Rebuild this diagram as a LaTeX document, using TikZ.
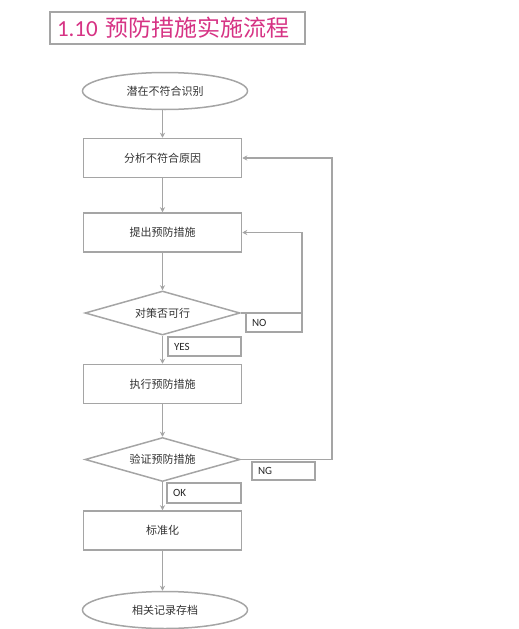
\documentclass[tikz,border=0pt]{standalone}
\usepackage{fontspec}
\setmainfont{Carlito}
\newfontfamily\cjk{Noto Sans CJK SC}
\usetikzlibrary{shapes.geometric,arrows.meta}
\definecolor{lg}{RGB}{165,165,165}
\definecolor{tpink}{RGB}{214,51,132}
\begin{document}
\begin{tikzpicture}[x=1pt,y=-1pt,
  every node/.style={font=\fontsize{11}{13}\selectfont\cjk, text=black!80},
  proc/.style={draw=lg, line width=1.5pt, minimum width=158pt, minimum height=39pt, inner sep=0pt},
  term/.style={ellipse, draw=lg, line width=1.5pt, minimum width=165pt, minimum height=37pt, inner sep=0pt},
  dec/.style={diamond, draw=lg, line width=1.5pt, aspect=3.6, minimum width=155pt, minimum height=44pt, inner sep=0pt},
  lbl/.style={draw=lg, line width=1.2pt, inner sep=0pt, inner xsep=6pt, align=left, font=\fontsize{11}{13}\selectfont, text=black!85},
  conn/.style={draw=lg, line width=1.6pt},
  arr/.style={conn, -{Stealth[length=5pt,width=5pt]}}]
\useasboundingbox (0,0) rectangle (519,629);
% title
\node[draw=lg, line width=1.6pt, minimum width=255pt, minimum height=32pt, inner sep=0pt, inner xsep=7pt,
      text width=241pt, align=left, text=tpink, font=\fontsize{23}{26}\selectfont] (title) at (177.5,28)
      {1.10 {\cjk 预防措施实施流程}};
% nodes
\node[term] (e1) at (165,91) {潜在不符合识别};
\node[proc] (b1) at (162.5,158) {分析不符合原因};
\node[proc] (b2) at (162.5,232.5) {提出预防措施};
\node[dec]  (d1) at (162.5,313) {对策否可行};
\node[proc] (b3) at (162.5,384) {执行预防措施};
\node[dec]  (d2) at (162.5,459.5) {验证预防措施};
\node[proc] (b4) at (162.5,530.5) {标准化};
\node[term] (e2) at (165,610) {相关记录存档};
% labels
\node[lbl, text width=44pt, minimum height=19pt] (no) at (274,322.5) {NO};
\node[lbl, text width=61pt, minimum height=19pt] (yes) at (204.5,346.5) {YES};
\node[lbl, text width=62pt, minimum height=20pt] (ok) at (204,493) {OK};
\node[lbl, text width=51pt, minimum height=18pt] (ng) at (283.5,471) {NG};
% connectors
\coordinate (noc) at (302,313);
\coordinate (ngc) at (332,459.5);
\draw[arr] (b1.north |- e1.south) -- (b1.north);
\draw[arr] (b1.south) -- (b2.north);
\draw[arr] (b2.south) -- (d1.north);
\draw[arr] (d1.south) -- (b3.north);
\draw[arr] (b3.south) -- (d2.north);
\draw[arr] (d2.south) -- (b4.north);
\draw[arr] (b4.south) -- (b4.south |- e2.north);
\draw[arr] (d1.east) -- (noc) |- (b2.east);
\draw[arr] (d2.east) -- (ngc) |- (b1.east);
\end{tikzpicture}
\end{document}
